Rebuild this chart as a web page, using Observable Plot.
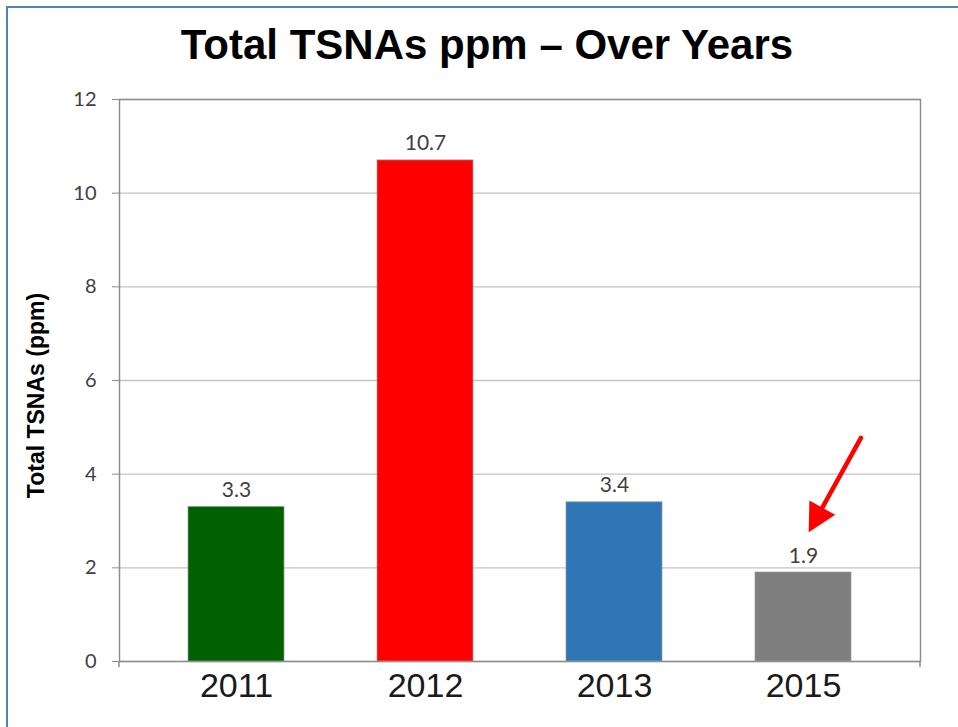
<!DOCTYPE html>
<html>
<head>
<meta charset="utf-8">
<script src="https://cdn.jsdelivr.net/npm/d3@7"></script>
<script src="https://cdn.jsdelivr.net/npm/@observablehq/plot@0.6"></script>
<style>
  html, body { margin: 0; padding: 0; background: #fff; }
  #wrap { position: relative; width: 958px; height: 727px; overflow: hidden; background: #fff; }
  #border { position: absolute; left: 6px; top: 6px; width: 960px; height: 730px;
            border-left: 2px solid #4f81bd; border-top: 2px solid #4f81bd; box-sizing: border-box; }
  #title { position: absolute; left: 8px; top: 21px; width: 958px; text-align: center;
           font-family: "Liberation Sans", Arial, sans-serif; font-weight: bold; font-size: 42px;
           line-height: 48px; color: #000; }
  #chart { position: absolute; left: 0; top: 80px; }
</style>
</head>
<body>
<div id="wrap">
  <div id="border"></div>
  <div id="title">Total TSNAs ppm – Over Years</div>
  <div id="chart"></div>
</div>
<script>
// ---- data ----
const years = ["2011", "2012", "2013", "2015"];
const values = [3.3, 10.7, 3.4, 1.9];
const valueLabels = ["3.3", "10.7", "3.4", "1.9"];
const barColors = ["#006100", "#ff0000", "#2e75b6", "#7f7f7f"];
const yTicks = [0, 2, 4, 6, 8, 10, 12];
const yLabel = "Total TSNAs (ppm)";
// annotation arrow pointing at the 2015 bar
const arrowYear = ["2015"];
const arrowTipValue = [2.85];

const data = years.map((y, i) => ({year: y, value: values[i], label: valueLabels[i], color: barColors[i]}));
const arrowData = arrowYear.map((y, i) => ({year: y, value: arrowTipValue[i]}));

const filledArrow = {
  draw(context, l) {
    const head = 21, half = 11;
    context.moveTo(0, 0);
    context.lineTo(0, -l + head * 0.7);
    context.moveTo(0, -l);
    context.lineTo(-half, -l + head);
    context.lineTo(half, -l + head);
    context.closePath();
  }
};

const chart = Plot.plot({
  width: 958,
  height: 647,
  marginLeft: 119,
  marginRight: 38,
  marginTop: 19,
  marginBottom: 66,
  style: {background: "transparent", overflow: "visible"},
  x: {domain: years, paddingInner: 0.49, paddingOuter: 0.36, label: null},
  y: {domain: [0, 12], ticks: yTicks, label: null},
  color: {type: "identity"},
  marks: [
    Plot.gridY(yTicks, {stroke: "#c4c4c4", strokeOpacity: 1, strokeWidth: 1.3}),
    Plot.frame({stroke: "#8e8e8e", strokeWidth: 1.5}),
    Plot.barY(data, {x: "year", y: "value", fill: "color", stroke: "#9a9a9a", strokeWidth: 1, strokeOpacity: 0.7}),
    Plot.text(data, {x: "year", y: "value", text: "label", dy: -10, lineAnchor: "bottom",
                     fontFamily: "Lato, sans-serif", fontSize: 21, fill: "#404040"}),
    Plot.axisY({ticks: yTicks, tickSize: 7, tickPadding: 16, stroke: "#8e8e8e",
                fontFamily: "Lato, sans-serif", fontSize: 20, color: "#404040", label: null}),
    Plot.axisX({tickSize: 0, tickPadding: 11, fontFamily: "'Liberation Sans', Arial, sans-serif",
                fontSize: 34, color: "#1a1a1a", label: null}),
    Plot.text([yLabel], {frameAnchor: "left", rotate: -90, dx: -83, dy: 15, textAnchor: "middle",
                         lineAnchor: "middle", fontFamily: "'Liberation Sans', Arial, sans-serif",
                         fontWeight: "bold", fontSize: 23, fill: "#000"}),
    Plot.vector(arrowData, {x: "year", y: "value", length: 103, rotate: 209, anchor: "end",
                            dx: 7.5, shape: filledArrow, stroke: "#ff0000", fill: "#ff0000",
                            strokeWidth: 4.5, strokeLinejoin: "miter"})
  ]
});
document.getElementById("chart").appendChild(chart);

// small tick extensions of the axis lines below the zero line (Excel style)
const svg = d3.select(chart);
const fr = svg.select("[aria-label=frame] rect").node() || svg.select("[aria-label=frame]").node();
if (fr && fr.getBBox) {
  const b = fr.getBBox();
  const g = svg.append("g").attr("stroke", "#8e8e8e").attr("stroke-width", 1.5);
  [b.x, b.x + b.width].forEach(xx => {
    g.append("line").attr("x1", xx).attr("x2", xx).attr("y1", b.y + b.height).attr("y2", b.y + b.height + 6);
  });
}
</script>
</body>
</html>
